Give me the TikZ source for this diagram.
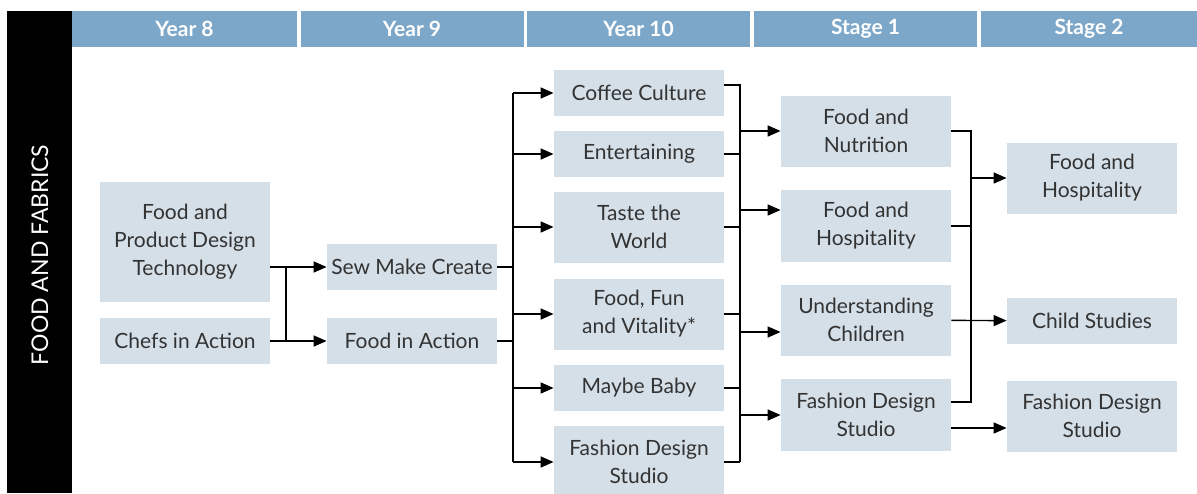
\documentclass[tikz,border=0pt]{standalone}
\usepackage{fontspec}
\setmainfont{Lato}
\usetikzlibrary{arrows.meta}
\definecolor{headblue}{RGB}{125,167,200}
\definecolor{boxgrey}{RGB}{212,223,232}
\definecolor{ink}{RGB}{51,51,51}

\begin{document}
\begin{tikzpicture}[x = 0.5pt, y = -0.5pt,
	course/.style = {fill=boxgrey, text=ink, align=center, inner sep=0pt, minimum width=85pt, minimum height=23pt, font=\fontsize{10.5}{14}\selectfont},
	tall/.style = {course, minimum height=35.5pt},
	header/.style = {fill=headblue, text=white, inner sep=0pt, minimum height=18pt, font=\fontsize{10.5}{12}\selectfont\bfseries},
	link/.style = {line width=0.7pt, -{Triangle[length=6.5pt,width=5.5pt]}},
	wire/.style = {line width=0.7pt},]
	\useasboundingbox (0,0) rectangle (1197,493);

	% side bar and column heads
	\fill[black] (7,11) rectangle (72,493);
	\node[rotate=90, text=white, font=\fontsize{11.5}{12}\selectfont] (side) at (40,255) {FOOD AND FABRICS};
	\node[header, minimum width=112.5pt] (Y8) at (184.5,29) {Year 8};
	\node[header, minimum width=111.5pt] (Y9) at (412,29) {Year 9};
	\node[header, minimum width=111.5pt] (Y10) at (638.5,29) {Year 10};
	\node[header, minimum width=111.5pt] (S1) at (865.5,29) {Stage 1};
	\node[header, minimum width=108pt] (S2) at (1089,29) {Stage 2};

	% courses
	\node[course, minimum height=60pt] (fpdt) at (185,242) {Food and\\Product Design\\Technology};
	\node[course] (chefs) at (185,341) {Chefs in Action};
	\node[course] (sew) at (412,267) {Sew Make Create};
	\node[course] (fia) at (412,341) {Food in Action};
	\node[course] (coffee) at (639,93) {Coffee Culture};
	\node[course] (enter) at (639,154) {Entertaining};
	\node[tall] (taste) at (639,227) {Taste the\\World};
	\node[tall] (ffv) at (639,314) {Food, Fun\\and Vitality*};
	\node[course] (baby) at (639,388) {Maybe Baby};
	\node[tall, minimum height=36pt] (fds10) at (639,462) {Fashion Design\\Studio};
	\node[tall] (fn) at (866,131) {Food and\\Nutrition};
	\node[tall, minimum height=36pt] (fh1) at (866,226) {Food and\\Hospitality};
	\node[tall] (uc) at (866,320) {Understanding\\Children};
	\node[tall, minimum height=36pt] (fds1) at (866,415) {Fashion Design\\Studio};
	\node[tall] (fh2) at (1092,178) {Food and\\Hospitality};
	\node[course] (cs) at (1092,321) {Child Studies};
	\node[tall] (fds2) at (1092,416) {Fashion Design\\Studio};

	% spines
	\coordinate (j1) at (286,267);
	\coordinate (j2) at (513,0);
	\coordinate (j3) at (740,0);
	\coordinate (j4) at (971,0);
	\coordinate (cofOut) at ([yshift=4pt]coffee.east);
	\coordinate (fhIn) at ([yshift=8pt]fh1.west);
	\coordinate (ucIn) at ([yshift=-6pt]uc.west);
	\coordinate (fdsUp) at ([yshift=6.5pt]fds1.east);
	\coordinate (fdsDown) at ([yshift=-6.5pt]fds1.east);

	% year 8 to year 9
	\draw[link] (fpdt.east |- sew) -- (sew);
	\draw[link] (chefs) -- (fia);
	\draw[wire] (j1) -- (j1 |- fia);

	% year 9 to year 10
	\draw[wire] (sew) -- (j2 |- sew);
	\draw[wire] (fia) -- (j2 |- fia);
	\draw[wire] (j2 |- coffee) -- (j2 |- fds10);
	\draw[link] (j2 |- coffee) -- (coffee);
	\draw[link] (j2 |- enter) -- (enter);
	\draw[link] (j2 |- taste) -- (taste);
	\draw[link] (j2 |- ffv) -- (ffv);
	\draw[link] (j2 |- baby) -- (baby);
	\draw[link] (j2 |- fds10) -- (fds10);

	% year 10 to stage 1
	\draw[wire] (cofOut) -- (cofOut -| j3) -- (j3 |- fds10);
	\draw[wire] (enter) -- (j3 |- enter);
	\draw[wire] (taste) -- (j3 |- taste);
	\draw[wire] (ffv) -- (j3 |- ffv);
	\draw[wire] (baby) -- (j3 |- baby);
	\draw[wire] (fds10) -- (j3 |- fds10);
	\draw[link] (j3 |- fn) -- (fn);
	\draw[link] (fhIn -| j3) -- (fhIn);
	\draw[link] (ucIn -| j3) -- (ucIn);
	\draw[link] (j3 |- fds1) -- (fds1);

	% stage 1 to stage 2
	\draw[wire] (fn) -- (j4 |- fn) -- (j4 |- fdsUp) -- (fdsUp);
	\draw[wire] (fh1) -- (j4 |- fh1);
	\draw[link] (j4 |- fh2) -- (fh2);
	\draw[link] (uc) -- (cs);
	\draw[link] (fdsDown) -- (fdsDown -| fds2.west);
\end{tikzpicture}
\end{document}
